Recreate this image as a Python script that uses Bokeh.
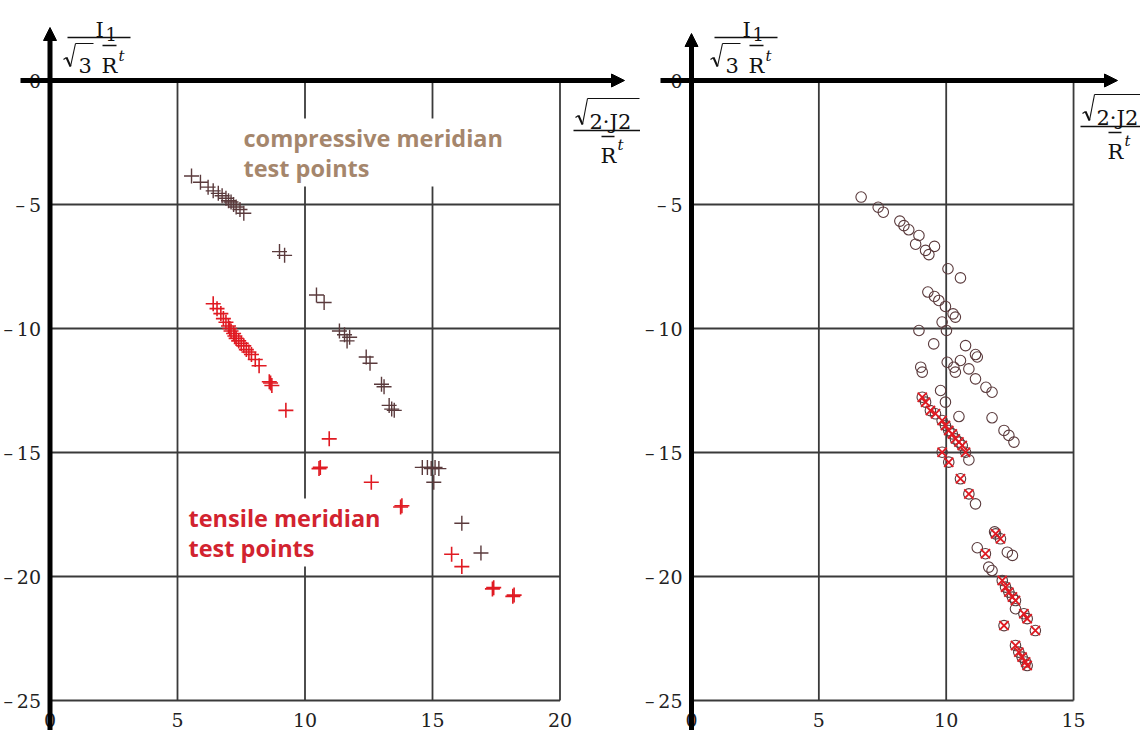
from bokeh.plotting import figure
from bokeh.models import Range1d, FixedTicker, Arrow, NormalHead, Label
from bokeh.layouts import row
from bokeh.embed import file_html
from bokeh.resources import INLINE

# ---------------- data ----------------
# left panel: compressive meridian test points (dark "+")
comp_left_x = [5.55, 5.9, 6.2, 6.4, 6.6, 6.75, 6.9, 7.0, 7.1, 7.2, 7.3, 7.45, 7.6,
               9.0, 9.2, 10.45, 10.75, 11.35, 11.55, 11.65, 11.75, 12.4, 12.55,
               13.0, 13.1, 13.3, 13.4, 13.5, 14.6, 14.8, 14.95, 15.1, 15.25, 15.05,
               16.15, 16.9]
comp_left_y = [-3.85, -4.1, -4.3, -4.45, -4.55, -4.65, -4.75, -4.85, -4.9, -5.0, -5.1, -5.2, -5.35,
               -6.9, -7.05, -8.65, -8.95, -10.1, -10.25, -10.5, -10.35, -11.15, -11.4,
               -12.25, -12.35, -13.1, -13.25, -13.3, -15.6, -15.6, -15.65, -15.6, -15.65, -16.2,
               -17.85, -19.05]
# left panel: tensile meridian test points (red "+")
tens_left_x = [6.4, 6.55, 6.7, 6.8, 6.9, 7.0, 7.05, 7.1, 7.2, 7.25, 7.3, 7.4, 7.5, 7.6,
               7.7, 7.8, 7.9, 8.05, 8.2, 8.6, 8.65, 8.7, 9.25, 10.95, 10.55, 10.6,
               12.6, 13.75, 13.8, 15.75, 16.15, 17.35, 17.4, 18.15, 18.2]
tens_left_y = [-9.0, -9.2, -9.4, -9.6, -9.75, -9.9, -10.0, -10.1, -10.2, -10.3, -10.4, -10.5, -10.6, -10.7,
               -10.85, -10.95, -11.05, -11.25, -11.5, -12.15, -12.2, -12.3, -13.3, -14.45, -15.65, -15.6,
               -16.2, -17.2, -17.15, -19.1, -19.6, -20.5, -20.45, -20.8, -20.75]

# right panel: all test points (open circles)
comp_right_x = [6.66, 7.33, 7.53, 8.18, 8.34, 8.53, 8.93, 8.80, 9.19, 9.32, 9.54, 10.07, 10.56,
                9.28, 9.54, 9.71, 9.97, 10.27, 10.36, 9.84, 10.01, 8.93, 9.51, 10.76, 11.15,
                11.22, 10.04, 10.30, 10.56, 10.89, 10.36, 11.15, 9.00, 9.06, 11.56, 11.80,
                9.78, 9.97, 10.50, 11.80, 12.27, 12.46, 12.66, 10.89, 11.15, 11.90, 11.22,
                12.40, 12.60, 11.67, 11.80, 12.72]
comp_right_y = [-4.70, -5.11, -5.31, -5.67, -5.85, -6.02, -6.25, -6.60, -6.85, -7.02, -6.69, -7.59, -7.96,
                -8.53, -8.71, -8.87, -9.11, -9.41, -9.54, -9.74, -10.08, -10.08, -10.62, -10.69, -11.05,
                -11.15, -11.36, -11.56, -11.29, -11.63, -11.76, -12.03, -11.56, -11.76, -12.37, -12.57,
                -12.50, -12.97, -13.55, -13.60, -14.11, -14.31, -14.58, -15.30, -17.07, -18.20, -18.84,
                -19.02, -19.15, -19.62, -19.76, -21.30]
# right panel: tensile meridian points (red x)
tens_right_x = [9.06, 9.19, 9.38, 9.58, 9.84, 9.97, 10.10, 10.24, 10.36, 10.50, 10.63, 10.76,
                9.84, 10.10, 10.56, 10.89, 11.94, 12.13, 11.54, 12.20, 12.33, 12.46, 12.60,
                12.72, 13.05, 13.18, 12.27, 13.50, 12.72, 12.85, 12.98, 13.12, 13.18]
tens_right_y = [-12.77, -12.97, -13.31, -13.44, -13.71, -13.91, -14.11, -14.25, -14.45, -14.58, -14.72, -14.99,
                -14.99, -15.39, -16.06, -16.67, -18.28, -18.48, -19.08, -20.16, -20.43, -20.63, -20.83,
                -20.97, -21.50, -21.70, -21.98, -22.18, -22.78, -23.05, -23.25, -23.45, -23.59]

left_xticks = [0, 5, 10, 15, 20]
right_xticks = [0, 5, 10, 15]
yticks = [0, -5, -10, -15, -20, -25]
ytick_labels = ["0", "\u2013\u20095", "\u2013\u200910", "\u2013\u200915", "\u2013\u200920", "\u2013\u200925"]

compressive_text = "compressive meridian\ntest points"
tensile_text = "tensile meridian\ntest points"

# ---------------- styling ----------------
H = 730
Y0PX, SY = 80.0, 24.8
COMP_COL = "#5a3a3c"
RED = "#e01a22"
GRID = "#3a3a3a"
SERIF = "DejaVu Serif"
INK = "#111111"


def make_panel(width, x0px, sx, xticks, left_px):
    def px2x(px):
        return (px - x0px) / sx

    def py2y(py):
        return (Y0PX - py) / SY

    p = figure(width=width, height=H,
               x_range=Range1d(px2x(left_px), px2x(left_px + width)),
               y_range=Range1d(py2y(H), py2y(0)),
               output_backend="svg", toolbar_location=None,
               min_border=0, outline_line_color=None, background_fill_color="white")
    p.xgrid.visible = False
    p.ygrid.visible = False

    # grid lines from the tick lists
    gx = [t for t in xticks if t != 0]
    gy = [t for t in yticks if t != 0]
    p.segment(x0=gx, y0=[min(yticks)] * len(gx), x1=gx, y1=[0] * len(gx),
              line_color=GRID, line_width=1.8)
    p.segment(x0=[0] * len(gy), y0=gy, x1=[max(xticks)] * len(gy), y1=gy,
              line_color=GRID, line_width=1.8)

    # axes with tick labels
    p.xaxis.fixed_location = min(yticks)
    p.yaxis.fixed_location = 0
    p.xaxis.ticker = FixedTicker(ticks=xticks)
    p.yaxis.ticker = FixedTicker(ticks=yticks)
    p.yaxis.major_label_overrides = {t: s for t, s in zip(yticks, ytick_labels)}
    for ax in (p.xaxis, p.yaxis):
        ax.axis_line_color = None
        ax.major_tick_line_color = None
        ax.minor_tick_line_color = None
        ax.major_label_text_font = SERIF
        ax.major_label_text_font_size = "19px"
        ax.major_label_text_color = "#222222"
    p.xaxis.major_label_standoff = 6
    p.yaxis.major_label_standoff = 3
    return p, px2x, py2y


def add_axes_arrows(p, px2x, py2y, xstart_px, xtip_px, ytip_px):
    p.add_layout(Arrow(x_start=px2x(xstart_px), y_start=0, x_end=px2x(xtip_px), y_end=0,
                       line_width=5, line_color="black",
                       end=NormalHead(size=13, fill_color="black", line_color="black", line_width=1)))
    p.add_layout(Arrow(x_start=0, y_start=py2y(745), x_end=0, y_end=py2y(ytip_px),
                       line_width=5, line_color="black",
                       end=NormalHead(size=13, fill_color="black", line_color="black", line_width=1)))


def txt(p, x, y, s, size="21px", style="normal"):
    p.add_layout(Label(x=x, y=y, text=s, text_font=SERIF, text_font_size=size,
                       text_align="left", text_baseline="alphabetic",
                       text_color=INK, text_font_style=style))


def seg(p, fx, fy, x0, y0, x1, y1, w=1.3):
    p.add_layout(Arrow(x_start=fx(x0), y_start=fy(y0), x_end=fx(x1), y_end=fy(y1), end=None,
                       line_width=w, line_color=INK))


def radical(p, fx, fy, x, base, top, x_end):
    # drawn radical sign with its vinculum (pixel offsets)
    seg(p, fx, fy, x, base - 6, x + 3, base - 8, 1.2)
    seg(p, fx, fy, x + 3, base - 8, x + 7, base + 1, 2.0)
    seg(p, fx, fy, x + 7, base + 1, x + 12, top, 1.1)
    seg(p, fx, fy, x + 12, top, x_end, top, 1.1)


def y_title(p, fx, fy, dx):
    # I1 / (sqrt(3) R^t), dx = horizontal offset in pixels
    txt(p, fx(95 + dx), fy(29), "I")
    txt(p, fx(105 + dx), fy(33), "1", size="18px")
    seg(p, fx, fy, 67 + dx, 37, 130 + dx, 37)
    radical(p, fx, fy, 63 + dx, 65, 43, 93 + dx)
    txt(p, fx(78 + dx), fy(65), "3")
    txt(p, fx(101 + dx), fy(65), "R")
    seg(p, fx, fy, 102 + dx, 45, 116 + dx, 45, 1.3)
    txt(p, fx(118 + dx), fy(55), "t", size="15px", style="italic")


def x_title(p, fx, fy, x0, dy):
    # sqrt(2 J2) / R^t, x0 = left pixel of the fraction bar
    radical(p, fx, fy, x0 + 2, 123 + dy, 98 + dy, x0 + 66)
    txt(p, fx(x0 + 16), fy(121 + dy), "2\u00b7J2")
    seg(p, fx, fy, x0, 130 + dy, x0 + 67, 130 + dy)
    txt(p, fx(x0 + 27), fy(155 + dy), "R")
    seg(p, fx, fy, x0 + 28, 136 + dy, x0 + 41, 136 + dy, 1.3)
    txt(p, fx(x0 + 44), fy(144 + dy), "t", size="15px", style="italic")


# ================= left panel =================
pL, lx, ly = make_panel(640, 49.5, 25.5, left_xticks, 0)
pL.scatter(comp_left_x, comp_left_y, marker="cross", size=15, line_width=1.4,
           line_color=COMP_COL)
pL.scatter(tens_left_x, tens_left_y, marker="cross", size=15, line_width=1.6,
           line_color=RED)
add_axes_arrows(pL, lx, ly, 20, 624, 27)

pL.add_layout(Label(x=lx(240), y=ly(118), text=compressive_text, text_font="Open Sans",
                    text_font_style="bold", text_font_size="23.5px", text_color="#a5866c",
                    text_align="left", text_baseline="top", text_line_height=0.94,
                    background_fill_color="white", padding=3))
pL.add_layout(Label(x=lx(185), y=ly(498), text=tensile_text, text_font="Open Sans",
                    text_font_style="bold", text_font_size="23.5px", text_color="#d2232f",
                    text_align="left", text_baseline="top", text_line_height=0.94,
                    background_fill_color="white", padding=3))

y_title(pL, lx, ly, 0)
x_title(pL, lx, ly, 573, 0)

# ================= right panel =================
pR, rx, ry = make_panel(500, 691.0, 25.47, right_xticks, 640)
pR.scatter(comp_right_x, comp_right_y, marker="circle", size=10.5, line_width=1.1,
           line_color=COMP_COL, fill_color=None)
pR.scatter(tens_right_x, tens_right_y, marker="circle", size=10.5, line_width=1.1,
           line_color=COMP_COL, fill_color=None)
pR.scatter(tens_right_x, tens_right_y, marker="x", size=13, line_width=1.8,
           line_color=RED)
add_axes_arrows(pR, rx, ry, 660, 1117, 33)

y_title(pR, rx, ry, 647)
x_title(pR, rx, ry, 1080, -4)

layout = row(pL, pR, spacing=0)
open("out.html", "w").write(file_html(layout, INLINE))
